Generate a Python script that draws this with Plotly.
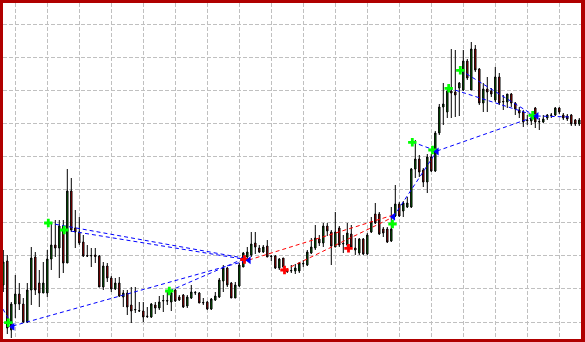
import plotly.graph_objects as go

# ---- candle data (price in chart points) ----
opens = [55, 79, 10, 36, 46, 36, 18, 50, 83, 57, 47, 47, 81, 95, 92, 114, 77, 149, 112, 108,
         98, 84.5, 84, 85, 84, 53, 74, 62, 51, 57, 43, 47, 35, 30, 29.5, 29, 24, 23, 35, 32,
         39, 39.5, 38, 50, 43, 45, 34, 42, 47, 47, 37, 38, 31, 40, 43, 59, 72, 57, 42, 54,
         73, 83, 85, 97, 92, 88, 94, 84, 84, 72, 82, 69, 69, 69, 69, 76, 75, 87, 92, 101,
         97, 114, 108, 93, 112, 96, 95, 106, 92, 87, 101, 86, 108, 126, 126, 111, 111, 99, 124, 136,
         129, 133, 133, 171, 181, 170, 158, 183, 169, 207, 233, 228, 249, 248, 252, 250, 279, 250, 291, 271,
         237, 251, 249, 240, 263, 238, 238, 246, 237, 230, 228, 220, 219, 232, 218, 218, 222, 224.5, 225, 232,
         225, 224, 225, 220, 216]
highs = [90, 85, 38, 65, 57, 42, 57, 93, 88, 70, 78, 90, 117, 120, 120, 120, 171, 162, 130, 123,
         105, 95, 92, 92, 85, 78, 77, 64, 62, 63, 50, 50, 53, 53, 38, 38, 33, 37, 38, 44,
         45, 49, 50, 51, 45, 46, 45, 55, 49, 48, 42, 39, 42, 48, 62, 75, 73, 58, 58, 77,
         88, 93, 108, 108, 95, 95, 100, 85, 85, 82, 82, 72, 75, 76, 78, 80, 90, 102, 115, 105,
         117, 117, 110, 128, 114, 105, 117, 115, 102, 102, 102, 107, 123, 137, 128, 113, 113, 133, 155, 138,
         139, 143, 172, 200, 185, 172, 186, 186, 209, 236, 257, 252, 291, 290, 258, 290, 281, 298, 295, 272,
         257, 263, 252, 273, 267, 245, 246, 247, 238, 233, 230, 225, 225, 233, 222, 225, 226, 227, 233, 233,
         227, 226, 226, 221, 222]
lows = [48, 6, 2, 22, 30, 17, 17, 35, 45, 33, 47, 43, 70, 83, 62, 67, 77, 108, 92, 95,
        83, 83, 73, 77, 53, 50, 58, 48, 50, 43, 33, 25, 17, 27, 28, 18, 22, 22, 26, 30,
        28, 35, 29, 38, 39, 32, 32, 41, 45, 37, 35, 30, 30, 39, 42, 48, 53, 42, 42, 53,
        73, 82, 83, 86, 87, 87, 83, 79, 71, 70, 72, 67, 67, 66, 67, 73, 74, 86, 90, 94,
        93, 104, 75, 93, 93, 87, 93, 92, 85, 85, 85, 85, 107, 116, 105, 103, 97, 98, 123, 123,
        123, 132, 132, 162, 163, 153, 147, 168, 168, 205, 215, 222, 222, 223, 224, 249, 260, 250, 268, 235,
        228, 228, 243, 238, 235, 230, 232, 233, 225, 222, 213, 215, 215, 212, 210, 217, 220, 222, 224, 226,
        220, 219, 214, 214, 214]
closes = [78, 12, 36, 46, 36, 18, 50, 82, 50, 47, 57, 81, 95, 92, 114, 77, 149, 110, 108, 97,
          84, 84, 84.5, 83.5, 53, 74, 62, 51, 57, 44, 47, 33, 29, 30.5, 29, 23, 23.5, 36, 32, 38,
          39.5, 39, 47, 39, 40, 33, 43, 48, 47.5, 37, 37.5, 31, 41, 44, 60, 72, 55, 42, 55, 75,
          87, 88, 96, 93, 88, 93, 83, 83.5, 72, 81, 73, 68.5, 69.5, 72, 77, 76.5, 88, 93, 102, 97,
          114, 109, 94, 108, 95, 96.5, 107, 93, 90, 101, 86, 105, 118, 117, 106, 107, 98, 111, 136, 124,
          137, 137, 171, 181, 168, 158, 183, 169, 207, 233, 236, 249, 247, 245, 257, 279, 262, 291, 270, 237,
          251, 248, 246, 263, 237, 238.5, 246, 237, 231, 227, 218, 219.5, 222, 218, 218.5, 221, 225, 225, 232, 228,
          222, 221, 216, 216, 220]
bars = list(range(len(opens)))

# ---- signal markers (bar index, price) ----
green_x = [1.25, 11.25, 15.25, 41.5, 97.3, 102.25, 107.3, 111.35, 114.25, 132.35]
green_y = [17.3, 117, 110, 49, 116, 197.7, 190, 251.7, 269.7, 224.7]
blue_x = [2.35, 61.4, 97.5, 108.4, 133.35]
blue_y = [13.3, 79.7, 123.3, 188.5, 224]
red_x = [60.3, 70.3, 86.3]
red_y = [80.5, 70, 91.7]

# ---- trend segments (x0, y0, x1, y1) ----
blue_segments = [
    (-0.1, 31, 2.35, 14),
    (2.35, 14, 61.4, 80),
    (11.25, 117, 61.4, 81),
    (15.25, 110, 61.4, 80),
    (41.5, 49, 60.5, 82),
    (102.25, 198, 108.4, 189),
    (97.5, 123, 108.4, 189),
    (108.4, 189, 133.35, 224),
    (111.35, 252, 132.5, 225),
    (114.25, 270, 132.5, 225),
    (133.35, 224, 142, 223),
]
red_segments = [
    (61.4, 80, 97.5, 125),
    (70.3, 70, 97.5, 123),
]


def seg_xy(segs):
    xs, ys = [], []
    for x0, y0, x1, y1 in segs:
        xs += [x0, x1, None]
        ys += [y0, y1, None]
    return xs, ys


fig = go.Figure()
fig.add_trace(go.Candlestick(
    x=bars, open=opens, high=highs, low=lows, close=closes,
    increasing=dict(fillcolor="#008000", line=dict(color="black", width=1)),
    decreasing=dict(fillcolor="#e00000", line=dict(color="black", width=1)),
    whiskerwidth=0, hoverinfo="skip", showlegend=False,
))

bx, by = seg_xy(blue_segments)
fig.add_trace(go.Scatter(x=bx, y=by, mode="lines",
                         line=dict(color="#0000ff", width=1, dash="4px,3px"),
                         hoverinfo="skip", showlegend=False))
rx, ry = seg_xy(red_segments)
fig.add_trace(go.Scatter(x=rx, y=ry, mode="lines",
                         line=dict(color="#ff0000", width=1, dash="4px,3px"),
                         hoverinfo="skip", showlegend=False))

fig.add_trace(go.Scatter(x=green_x, y=green_y, mode="markers",
                         marker=dict(symbol="cross", size=7, color="#00ff00"),
                         hoverinfo="skip", showlegend=False))
fig.add_trace(go.Scatter(x=red_x, y=red_y, mode="markers",
                         marker=dict(symbol="cross", size=7, color="#ff0000"),
                         hoverinfo="skip", showlegend=False))
fig.add_trace(go.Scatter(x=blue_x, y=blue_y, mode="markers",
                         marker=dict(symbol="triangle-left", size=7, color="#0000ff"),
                         hoverinfo="skip", showlegend=False))

fig.update_layout(
    width=585, height=342,
    margin=dict(l=3, r=4, t=3, b=3),
    paper_bgcolor="#b00000",
    plot_bgcolor="white",
    boxgap=0.5,
    xaxis=dict(range=[-0.075, 144.425], showticklabels=False, ticks="",
               showgrid=True, gridcolor="#c0c0c0", griddash="4px,2px", gridwidth=1,
               tick0=3, dtick=8, zeroline=False, rangeslider=dict(visible=False),
               showline=False, fixedrange=True),
    yaxis=dict(range=[1, 337], showticklabels=False, ticks="",
               showgrid=True, gridcolor="#c0c0c0", griddash="4px,2px", gridwidth=1,
               tick0=18, dtick=33.1, zeroline=False, showline=False, fixedrange=True),
)

fig.write_html("out.html", config={"displayModeBar": False})
